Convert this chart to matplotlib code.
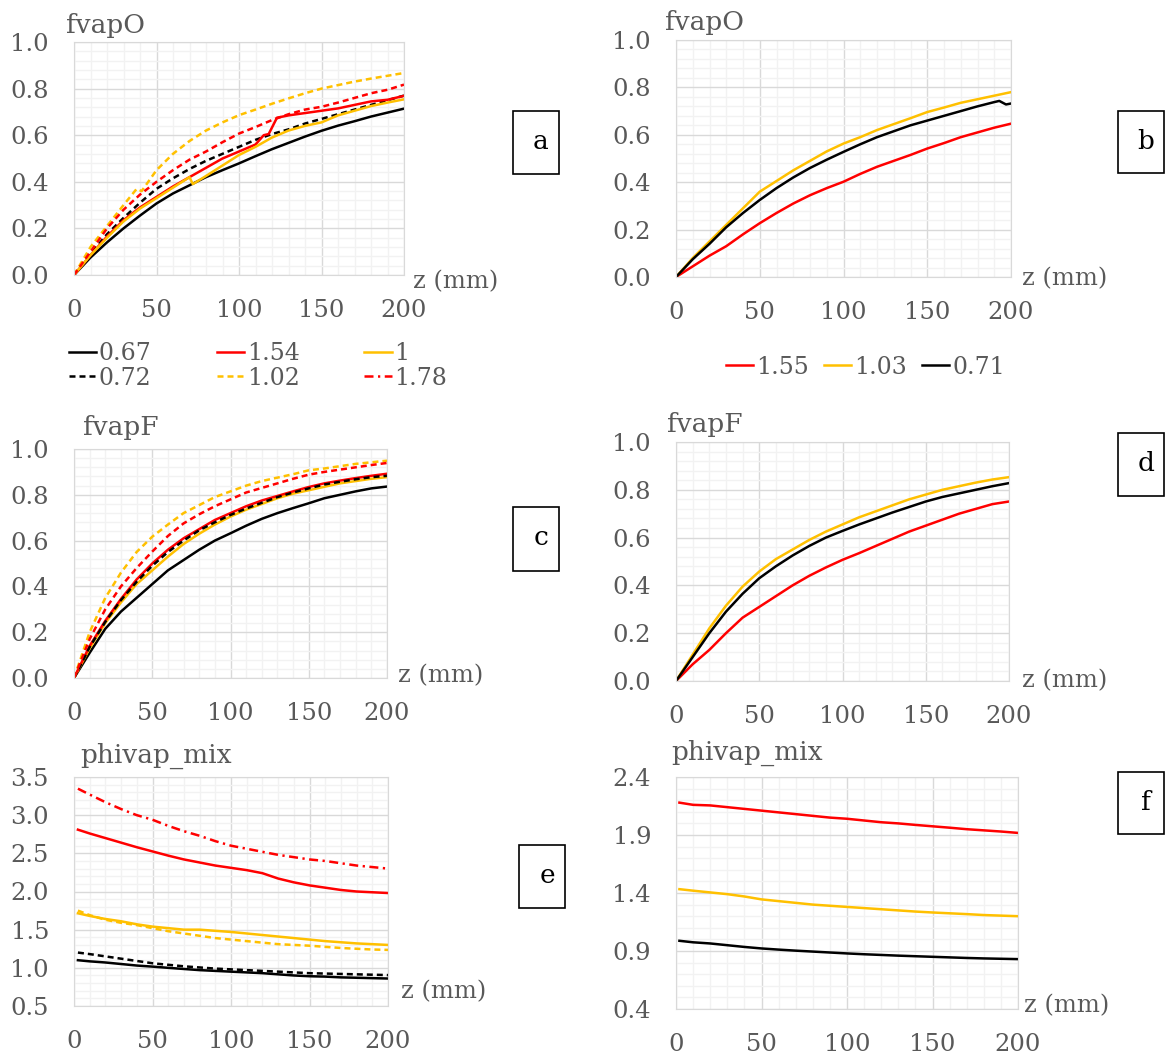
import matplotlib
matplotlib.use('Agg')
import matplotlib.pyplot as plt
from matplotlib.lines import Line2D
from matplotlib.patches import Rectangle
from matplotlib.ticker import MultipleLocator, FormatStrFormatter

plt.rcParams['font.family'] = ['DejaVu Serif']

# ---- data ----
z = [0, 10, 20, 30, 40, 50, 60, 70, 80, 90, 100, 110, 120, 130, 140, 150, 160, 170, 180, 190, 200]

# panel a: fvapO, six cases
a_067 = [0, 0.075, 0.14, 0.20, 0.255, 0.307, 0.35, 0.385, 0.42, 0.45, 0.479, 0.51, 0.54, 0.567, 0.594, 0.619, 0.641, 0.66, 0.68, 0.697, 0.714]
a_072 = [0, 0.09, 0.175, 0.245, 0.31, 0.37, 0.415, 0.455, 0.49, 0.52, 0.55, 0.58, 0.605, 0.625, 0.65, 0.67, 0.69, 0.71, 0.73, 0.75, 0.77]
a_178 = [0, 0.10, 0.20, 0.28, 0.345, 0.40, 0.45, 0.495, 0.53, 0.57, 0.607, 0.635, 0.665, 0.69, 0.71, 0.722, 0.74, 0.76, 0.78, 0.795, 0.817]
za_1 = [0, 10, 20, 30, 40, 50, 60, 70, 72, 80, 90, 100, 110, 120, 130, 140, 150, 160, 170, 180, 190, 200]
a_1 = [0, 0.085, 0.16, 0.23, 0.285, 0.33, 0.375, 0.42, 0.39, 0.425, 0.47, 0.515, 0.55, 0.59, 0.62, 0.64, 0.655, 0.685, 0.705, 0.725, 0.74, 0.754]
za_154 = [0, 10, 20, 30, 40, 50, 60, 70, 80, 90, 100, 110, 115, 118, 123, 130, 140, 150, 160, 170, 180, 190, 200]
a_154 = [0, 0.085, 0.165, 0.235, 0.29, 0.335, 0.38, 0.42, 0.46, 0.50, 0.53, 0.56, 0.60, 0.605, 0.675, 0.685, 0.695, 0.705, 0.715, 0.73, 0.745, 0.752, 0.769]
za_102 = [0, 5, 10, 20, 30, 38, 41, 50, 60, 70, 80, 90, 100, 110, 120, 130, 140, 150, 160, 170, 180, 190, 200]
a_102 = [0, 0.06, 0.12, 0.21, 0.30, 0.37, 0.36, 0.45, 0.52, 0.575, 0.62, 0.655, 0.686, 0.71, 0.735, 0.758, 0.78, 0.80, 0.815, 0.83, 0.843, 0.855, 0.867]

# panel b: fvapO, three cases
b_155 = [0, 0.045, 0.09, 0.13, 0.18, 0.227, 0.27, 0.31, 0.345, 0.375, 0.402, 0.435, 0.465, 0.49, 0.515, 0.542, 0.565, 0.59, 0.61, 0.63, 0.647]
b_103 = [0, 0.08, 0.15, 0.22, 0.29, 0.36, 0.405, 0.45, 0.49, 0.53, 0.563, 0.59, 0.62, 0.645, 0.67, 0.696, 0.715, 0.735, 0.75, 0.765, 0.78]
zb_071 = [0, 10, 20, 30, 40, 50, 60, 70, 80, 90, 100, 110, 120, 130, 140, 150, 160, 170, 180, 190, 193, 197, 200]
b_071 = [0, 0.075, 0.14, 0.21, 0.27, 0.325, 0.375, 0.42, 0.46, 0.495, 0.528, 0.56, 0.59, 0.615, 0.64, 0.66, 0.68, 0.70, 0.72, 0.738, 0.743, 0.728, 0.732]

# panel c: fvapF, six cases
c_067 = [0, 0.11, 0.215, 0.29, 0.35, 0.41, 0.47, 0.515, 0.56, 0.60, 0.632, 0.665, 0.695, 0.72, 0.742, 0.763, 0.785, 0.80, 0.815, 0.828, 0.836]
c_072 = [0, 0.135, 0.245, 0.34, 0.42, 0.49, 0.55, 0.60, 0.645, 0.68, 0.712, 0.74, 0.765, 0.79, 0.81, 0.828, 0.845, 0.857, 0.868, 0.877, 0.883]
c_154 = [0, 0.14, 0.25, 0.345, 0.43, 0.50, 0.56, 0.61, 0.65, 0.69, 0.72, 0.75, 0.775, 0.795, 0.815, 0.834, 0.85, 0.862, 0.873, 0.883, 0.892]
c_102 = [0, 0.20, 0.35, 0.46, 0.55, 0.617, 0.67, 0.72, 0.755, 0.79, 0.815, 0.84, 0.86, 0.875, 0.89, 0.907, 0.915, 0.925, 0.935, 0.942, 0.949]
c_1 = [0, 0.13, 0.24, 0.33, 0.41, 0.47, 0.53, 0.585, 0.63, 0.67, 0.705, 0.735, 0.76, 0.785, 0.805, 0.82, 0.835, 0.85, 0.86, 0.87, 0.877]
c_178 = [0, 0.17, 0.30, 0.40, 0.48, 0.552, 0.62, 0.675, 0.715, 0.75, 0.78, 0.81, 0.83, 0.85, 0.87, 0.888, 0.90, 0.91, 0.92, 0.93, 0.939]

# panel d: fvapF, three cases
d_155 = [0, 0.07, 0.13, 0.20, 0.265, 0.31, 0.355, 0.40, 0.44, 0.475, 0.507, 0.535, 0.565, 0.595, 0.625, 0.65, 0.675, 0.70, 0.72, 0.74, 0.751]
d_103 = [0, 0.11, 0.22, 0.315, 0.395, 0.458, 0.51, 0.55, 0.59, 0.625, 0.655, 0.685, 0.71, 0.735, 0.76, 0.78, 0.80, 0.815, 0.83, 0.843, 0.853]
d_071 = [0, 0.10, 0.20, 0.29, 0.365, 0.43, 0.48, 0.525, 0.565, 0.60, 0.628, 0.655, 0.68, 0.705, 0.728, 0.751, 0.77, 0.785, 0.80, 0.815, 0.828]

# panel e: phivap_mix, six cases
ze = [2.5, 10, 20, 30, 40, 50, 60, 70, 80, 90, 100, 110, 120, 130, 140, 150, 160, 170, 180, 190, 200]
e_178 = [3.347, 3.27, 3.17, 3.08, 3.00, 2.94, 2.86, 2.79, 2.73, 2.66, 2.60, 2.56, 2.52, 2.48, 2.45, 2.42, 2.40, 2.37, 2.34, 2.32, 2.30]
e_154 = [2.81, 2.76, 2.70, 2.64, 2.58, 2.525, 2.47, 2.42, 2.38, 2.34, 2.31, 2.28, 2.24, 2.17, 2.12, 2.08, 2.05, 2.02, 2.00, 1.99, 1.98]
e_1 = [1.715, 1.68, 1.64, 1.61, 1.57, 1.54, 1.52, 1.50, 1.50, 1.485, 1.47, 1.45, 1.43, 1.41, 1.39, 1.37, 1.35, 1.335, 1.32, 1.31, 1.30]
e_102 = [1.75, 1.69, 1.63, 1.59, 1.56, 1.52, 1.48, 1.45, 1.42, 1.39, 1.37, 1.35, 1.33, 1.31, 1.30, 1.29, 1.275, 1.26, 1.25, 1.24, 1.235]
e_072 = [1.20, 1.18, 1.15, 1.12, 1.09, 1.06, 1.04, 1.02, 1.005, 0.99, 0.98, 0.97, 0.96, 0.95, 0.94, 0.93, 0.925, 0.92, 0.915, 0.91, 0.905]
e_067 = [1.10, 1.085, 1.07, 1.05, 1.03, 1.016, 1.00, 0.985, 0.97, 0.96, 0.95, 0.94, 0.93, 0.915, 0.90, 0.89, 0.885, 0.875, 0.87, 0.865, 0.86]

# panel f: phivap_mix, three cases
zf = [2, 10, 20, 30, 40, 50, 60, 70, 80, 90, 100, 110, 120, 130, 140, 150, 160, 170, 180, 190, 200]
f_155 = [2.179, 2.16, 2.155, 2.14, 2.125, 2.11, 2.095, 2.08, 2.065, 2.05, 2.04, 2.025, 2.01, 2.0, 1.987, 1.975, 1.963, 1.95, 1.94, 1.93, 1.918]
f_103 = [1.433, 1.42, 1.405, 1.39, 1.37, 1.345, 1.33, 1.315, 1.30, 1.29, 1.28, 1.27, 1.26, 1.25, 1.24, 1.232, 1.225, 1.218, 1.21, 1.205, 1.20]
f_071 = [0.988, 0.975, 0.965, 0.95, 0.935, 0.922, 0.912, 0.903, 0.895, 0.887, 0.879, 0.872, 0.866, 0.86, 0.855, 0.85, 0.845, 0.84, 0.836, 0.833, 0.83]

labels_left = ['0.67', '0.72', '1.54', '1.02', '1', '1.78']
labels_right = ['1.55', '1.03', '0.71']
yticks_f = [0.4, 0.9, 1.4, 1.9, 2.4]

RED = '#FF0000'
YEL = '#FFC000'
BLK = '#000000'
GREY = '#595959'
LW = 1.8
DASH = (0, (2.4, 1.6))
DASHDOT = (0, (3.6, 1.8, 0.9, 1.8))

W, H = 1165, 1057
fig = plt.figure(figsize=(W / 100, H / 100), dpi=100)


def px_box(l, t, r, b):
    return [l / W, 1 - b / H, (r - l) / W, (b - t) / H]


def make_axes(rect, ylo, yhi, ymaj, ymin):
    ax = fig.add_axes(px_box(*rect))
    ax.set_xlim(0, 200)
    ax.set_ylim(ylo, yhi)
    ax.xaxis.set_major_locator(MultipleLocator(50))
    ax.xaxis.set_minor_locator(MultipleLocator(10))
    ax.yaxis.set_major_locator(MultipleLocator(ymaj))
    ax.yaxis.set_minor_locator(MultipleLocator(ymin))
    ax.yaxis.set_major_formatter(FormatStrFormatter('%.1f'))
    ax.grid(which='major', color='#d9d9d9', lw=1)
    ax.grid(which='minor', color='#f2f2f2', lw=1)
    ax.set_axisbelow(True)
    ax.tick_params(which='both', length=0, labelsize=17.5, labelcolor=GREY)
    ax.tick_params(axis='x', pad=17)
    ax.tick_params(axis='y', pad=18)
    for s in ax.spines.values():
        s.set_color('#d9d9d9')
    return ax


def ftext(x, y, s, **kw):
    fig.text(x / W, 1 - y / H, s, **kw)


def letter_box(l, t, r, b, s):
    fig.add_artist(Rectangle((l / W, 1 - b / H), (r - l) / W, (b - t) / H,
                             transform=fig.transFigure, fill=False, ec='black', lw=1.2))
    ftext((l + r) / 2 + 5, t + 38, s, ha='center', va='baseline', fontsize=19, color='black')


# panel a
ax = make_axes((74, 42, 404, 275), 0, 1.0, 0.2, 0.04)
ax.plot(z, a_067, color=BLK, lw=LW)
ax.plot(z, a_072, color=BLK, lw=LW, ls=DASH)
ax.plot(za_154, a_154, color=RED, lw=LW)
ax.plot(za_102, a_102, color=YEL, lw=LW, ls=DASH)
ax.plot(za_1, a_1, color=YEL, lw=LW)
ax.plot(z, a_178, color=RED, lw=LW, ls=DASH)

# panel b
ax = make_axes((676, 40, 1011, 277), 0, 1.0, 0.2, 0.04)
ax.plot(z, b_155, color=RED, lw=LW)
ax.plot(z, b_103, color=YEL, lw=LW)
ax.plot(zb_071, b_071, color=BLK, lw=LW)

# panel c
ax = make_axes((74, 449, 387, 678), 0, 1.0, 0.2, 0.04)
ax.plot(z, c_067, color=BLK, lw=LW)
ax.plot(z, c_1, color=YEL, lw=LW)
ax.plot(z, c_154, color=RED, lw=LW)
ax.plot(z, c_072, color=BLK, lw=LW, ls=DASH)
ax.plot(z, c_102, color=YEL, lw=LW, ls=DASH)
ax.plot(z, c_178, color=RED, lw=LW, ls=DASH)

# panel d
ax = make_axes((676, 442, 1009, 681), 0, 1.0, 0.2, 0.04)
ax.plot(z, d_155, color=RED, lw=LW)
ax.plot(z, d_103, color=YEL, lw=LW)
ax.plot(z, d_071, color=BLK, lw=LW)

# panel e
ax = make_axes((74, 777, 388, 1006), 0.5, 3.5, 0.5, 0.1)
ax.plot(ze, e_178, color=RED, lw=LW, ls=DASHDOT)
ax.plot(ze, e_154, color=RED, lw=LW)
ax.plot(ze, e_1, color=YEL, lw=LW)
ax.plot(ze, e_102, color=YEL, lw=LW, ls=DASH)
ax.plot(ze, e_072, color=BLK, lw=LW, ls=DASH)
ax.plot(ze, e_067, color=BLK, lw=LW)

# panel f
ax = make_axes((676, 777, 1018, 1009), 0.4, 2.4, 0.5, 0.1)
ax.set_yticks(yticks_f)
ax.plot(zf, f_155, color=RED, lw=LW)
ax.plot(zf, f_103, color=YEL, lw=LW)
ax.plot(zf, f_071, color=BLK, lw=LW)

# titles and axis labels
tkw = dict(fontsize=19, color=GREY, va='baseline')
ftext(66, 33, 'fvapO', **tkw)
ftext(665, 30, 'fvapO', **tkw)
ftext(83, 435, 'fvapF', **tkw)
ftext(667, 432, 'fvapF', **tkw)
ftext(80, 763, 'phivap_mix', **tkw)
ftext(671, 760, 'phivap_mix', **tkw)
zkw = dict(fontsize=17.5, color=GREY, va='baseline')
ftext(413, 288, 'z (mm)', **zkw)
ftext(1022, 285, 'z (mm)', **zkw)
ftext(398, 682, 'z (mm)', **zkw)
ftext(1022, 687, 'z (mm)', **zkw)
ftext(401, 998, 'z (mm)', **zkw)
ftext(1024, 1012, 'z (mm)', **zkw)

# legends
h_left = [Line2D([], [], color=BLK, lw=LW),
          Line2D([], [], color=BLK, lw=LW, ls=DASH),
          Line2D([], [], color=RED, lw=LW),
          Line2D([], [], color=YEL, lw=LW, ls=DASH),
          Line2D([], [], color=YEL, lw=LW),
          Line2D([], [], color=RED, lw=LW, ls=DASHDOT)]
fig.legend(h_left, labels_left, loc='center left', bbox_to_anchor=(69 / W, 1 - 366 / H),
           ncol=3, frameon=False, fontsize=17, handlelength=1.15, handletextpad=0.12,
           columnspacing=2.75, labelspacing=0.05, borderpad=0, borderaxespad=0, labelcolor=GREY)

h_right = [Line2D([], [], color=RED, lw=LW),
           Line2D([], [], color=YEL, lw=LW),
           Line2D([], [], color=BLK, lw=LW)]
fig.legend(h_right, labels_right, loc='center left', bbox_to_anchor=(726 / W, 1 - 367 / H),
           ncol=3, frameon=False, fontsize=17, handlelength=1.15, handletextpad=0.12,
           columnspacing=0.65, borderpad=0, borderaxespad=0, labelcolor=GREY)

# panel letters
letter_box(513, 111, 559, 174, 'a')
letter_box(1118, 111, 1164, 173, 'b')
letter_box(513, 507, 559, 571, 'c')
letter_box(1118, 433, 1164, 496, 'd')
letter_box(519, 845, 565, 908, 'e')
letter_box(1118, 772, 1164, 834, 'f')

fig.savefig('out.png', dpi=100)
